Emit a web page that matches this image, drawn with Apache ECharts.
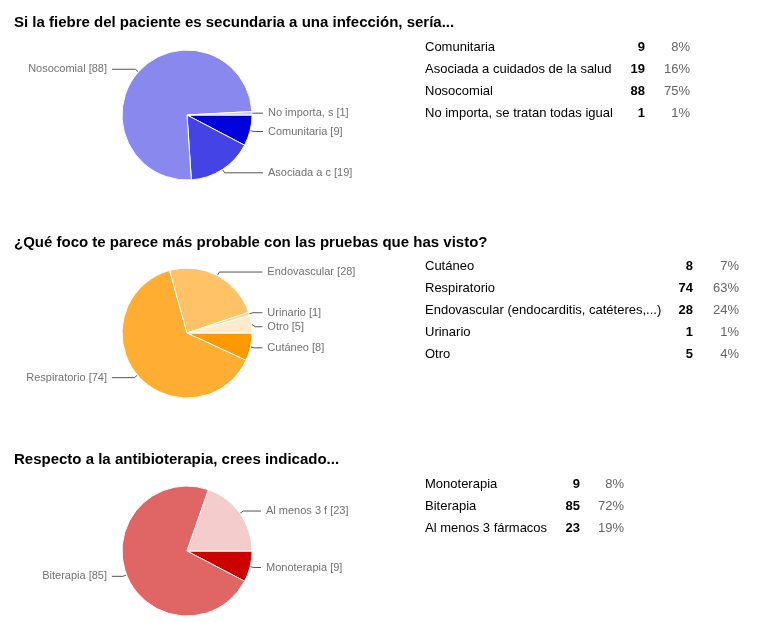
<!DOCTYPE html>
<html><head><meta charset="utf-8">
<script src="https://cdn.jsdelivr.net/npm/echarts@6/dist/echarts.min.js"></script>
<style>html,body{margin:0;padding:0;background:#fff}#c{width:757px;height:623px}</style>
</head><body><div id="c"></div>
<script>
// ---- Data ----
const title1 = 'Si la fiebre del paciente es secundaria a una infección, sería...';
const cats1 = ['Comunitaria', 'Asociada a cuidados de la salud', 'Nosocomial', 'No importa, se tratan todas igual'];
const short1 = ['Comunitaria', 'Asociada a c', 'Nosocomial', 'No importa, s'];
const vals1 = [9, 19, 88, 1];
const pcts1 = ['8%', '16%', '75%', '1%'];

const title2 = '¿Qué foco te parece más probable con las pruebas que has visto?';
const cats2 = ['Cutáneo', 'Respiratorio', 'Endovascular (endocarditis, catéteres,...)', 'Urinario', 'Otro'];
const short2 = ['Cutáneo', 'Respiratorio', 'Endovascular', 'Urinario', 'Otro'];
const vals2 = [8, 74, 28, 1, 5];
const pcts2 = ['7%', '63%', '24%', '1%', '4%'];

const title3 = 'Respecto a la antibioterapia, crees indicado...';
const cats3 = ['Monoterapia', 'Biterapia', 'Al menos 3 fármacos'];
const short3 = ['Monoterapia', 'Biterapia', 'Al menos 3 f'];
const vals3 = [9, 85, 23];
const pcts3 = ['8%', '72%', '19%'];

// ---- Styles / layout ----
const colors1 = ['#0000dd', '#4444e6', '#8888ee', '#ccccf7'];
const colors2 = ['#ff9900', '#ffad33', '#ffc266', '#ffd699', '#ffebcc'];
const colors3 = ['#cc0000', '#e06666', '#f4cccc'];
const FONT = '"Liberation Sans", Arial, sans-serif';
const R = 65, LEN = 4, CX = 187;
const LEFT_TEXT_END = 107;

function pieSeries(cats, short, vals, colors, cy) {
  const total = vals.reduce((a, b) => a + b, 0);
  let acc = 0;
  const data = vals.map((v, i) => {
    const mid = (acc + v / 2) / total * 2 * Math.PI;
    acc += v;
    const dx = Math.cos(mid);
    const item = { name: cats[i], value: v, itemStyle: { color: colors[i] } };
    if (dx < 0) {
      item.labelLine = { length2: Math.max(4, CX + (R + LEN) * dx - 5 - LEFT_TEXT_END) };
    }
    return item;
  });
  return {
    type: 'pie', center: [CX, cy], radius: R, startAngle: 0, clockwise: true,
    avoidLabelOverlap: true, animation: false, silent: true,
    label: {
      formatter: p => short[p.dataIndex] + ' [' + p.value + ']',
      alignTo: 'labelLine', distanceToLabelLine: 5,
      color: '#737373', fontSize: 11, fontFamily: FONT, lineHeight: 12
    },
    labelLine: { length: LEN, length2: 7, lineStyle: { color: '#555', width: 1 } },
    itemStyle: { borderColor: '#fff', borderWidth: 1 },
    emphasis: { disabled: true },
    data
  };
}

function tableTitle(cats, vals, pcts, top, w) {
  const lines = cats.map((c, i) => '{l|' + c + '}{n|' + vals[i] + '}{p|' + pcts[i] + '}');
  return {
    text: lines.join('\n'), left: 425, top: top, padding: 0,
    textStyle: {
      fontWeight: 'normal',
      rich: {
        l: { width: w[0], fontSize: 13, fontWeight: 'normal', color: '#000', fontFamily: FONT, lineHeight: 22 },
        n: { width: w[1], align: 'right', fontSize: 13, fontWeight: 'bold', color: '#000', fontFamily: FONT, lineHeight: 22 },
        p: { width: w[2], align: 'right', fontSize: 13, fontWeight: 'normal', color: '#666', fontFamily: FONT, lineHeight: 22 }
      }
    }
  };
}

function headTitle(text, top) {
  return { text, left: 14, top, padding: 0,
    textStyle: { fontSize: 15, fontWeight: 'bold', color: '#000', fontFamily: FONT, lineHeight: 18 } };
}

const chart = echarts.init(document.getElementById('c'), null, { renderer: 'canvas' });
chart.setOption({
  backgroundColor: '#fff',
  animation: false,
  title: [
    headTitle(title1, 14),
    headTitle(title2, 234),
    headTitle(title3, 451),
    tableTitle(cats1, vals1, pcts1, 36, [190, 30, 45]),
    tableTitle(cats2, vals2, pcts2, 255, [240, 28, 46]),
    tableTitle(cats3, vals3, pcts3, 473, [125, 30, 44])
  ],
  series: [
    pieSeries(cats1, short1, vals1, colors1, 115),
    pieSeries(cats2, short2, vals2, colors2, 333),
    pieSeries(cats3, short3, vals3, colors3, 551)
  ]
});
</script></body></html>
